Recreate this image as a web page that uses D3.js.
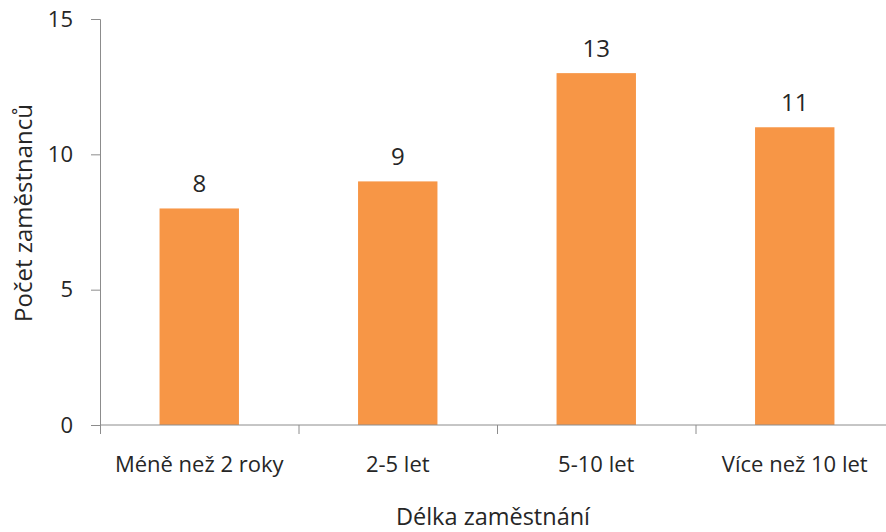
<!DOCTYPE html>
<html>
<head>
<meta charset="utf-8">
<script src="https://cdn.jsdelivr.net/npm/d3@7"></script>
<style>
  body { margin: 0; background: #fff; }
  text { font-family: "Open Sans", Lato, sans-serif; fill: #262626; }
</style>
</head>
<body>
<div id="chart"></div>
<script>
// data
const categories = ["Méně než 2 roky", "2-5 let", "5-10 let", "Více než 10 let"];
const values = [8, 9, 13, 11];
const yTicks = [0, 5, 10, 15];

const width = 886, height = 532;
const margin = { top: 19, right: -8, bottom: 107, left: 100 };

const svg = d3.select("#chart")
  .append("svg")
  .attr("width", width)
  .attr("height", height);

const xScale = d3.scaleBand()
  .domain(categories)
  .range([margin.left, width - margin.right])
  .paddingInner(0.6)
  .paddingOuter(0.3);

const yScale = d3.scaleLinear()
  .domain([0, 15])
  .range([height - margin.bottom, margin.top]);

const bandStep = xScale.step();
const x0 = margin.left;

// bars
svg.selectAll("rect.bar")
  .data(values)
  .enter()
  .append("rect")
    .attr("class", "bar")
    .attr("x", (d, i) => xScale(categories[i]))
    .attr("y", d => yScale(d))
    .attr("width", xScale.bandwidth())
    .attr("height", d => yScale(0) - yScale(d))
    .attr("fill", "#F79646");

// value labels
svg.selectAll("text.val")
  .data(values)
  .enter()
  .append("text")
    .attr("class", "val")
    .attr("x", (d, i) => xScale(categories[i]) + xScale.bandwidth() / 2)
    .attr("y", d => yScale(d) - 16)
    .attr("text-anchor", "middle")
    .attr("font-size", "24px")
    .text(d => d);

// y axis
const yAxis = svg.append("g")
  .attr("transform", `translate(${margin.left},0)`)
  .call(d3.axisLeft(yScale).tickValues(yTicks).tickSize(9).tickPadding(18));
yAxis.selectAll("path, line").attr("stroke", "#8c8c8c");
yAxis.selectAll("text")
  .attr("font-size", "22px")
  .attr("font-family", "'Open Sans', sans-serif")
  .attr("fill", "#262626");

// x axis: line plus ticks at band boundaries
const xAxis = svg.append("g")
  .attr("transform", `translate(0,${yScale(0)})`);
xAxis.append("line")
  .attr("x1", margin.left).attr("x2", width)
  .attr("stroke", "#8c8c8c");
xAxis.selectAll("line.tick")
  .data(d3.range(categories.length + 1))
  .enter()
  .append("line")
    .attr("class", "tick")
    .attr("x1", i => x0 + i * bandStep + 0.5)
    .attr("x2", i => x0 + i * bandStep + 0.5)
    .attr("y1", 0).attr("y2", 9)
    .attr("stroke", "#8c8c8c");
xAxis.selectAll("text")
  .data(categories)
  .enter()
  .append("text")
    .attr("x", d => xScale(d) + xScale.bandwidth() / 2)
    .attr("y", 47)
    .attr("text-anchor", "middle")
    .attr("font-size", "22px")
    .text(d => d);

// axis titles
svg.append("text")
  .attr("x", (margin.left + width) / 2)
  .attr("y", 525)
  .attr("text-anchor", "middle")
  .attr("font-size", "23.5px")
  .text("Délka zaměstnání");

svg.append("text")
  .attr("transform", "translate(32,213) rotate(-90)")
  .attr("text-anchor", "middle")
  .attr("font-size", "24px")
  .text("Počet zaměstnanců");
</script>
</body>
</html>
